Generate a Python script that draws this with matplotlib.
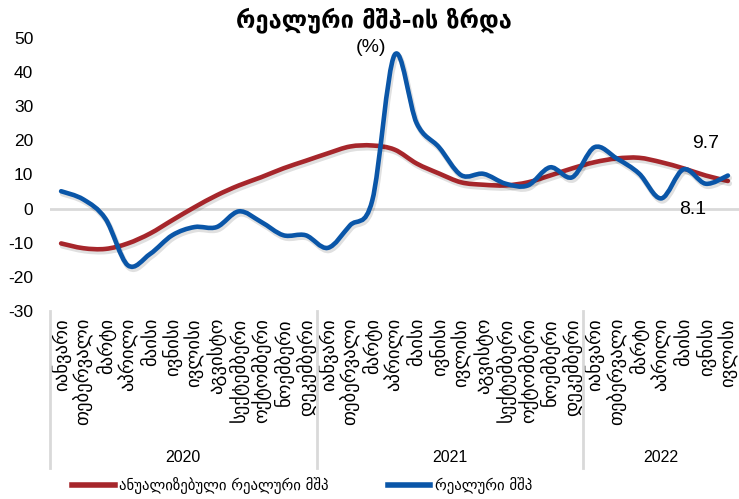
import numpy as np
import matplotlib
matplotlib.use("Agg")
import matplotlib.pyplot as plt
from matplotlib.path import Path
from matplotlib.patches import PathPatch
from matplotlib.lines import Line2D
import matplotlib.patheffects as pe
import matplotlib.transforms as mtransforms

plt.rcParams['font.family'] = ['Liberation Sans', 'DejaVu Sans']
plt.rcParams['axes.unicode_minus'] = False

months = ["იანვარი", "თებერვალი", "მარტი", "აპრილი", "მაისი", "ივნისი",
          "ივლისი", "აგვისტო", "სექტემბერი", "ოქტომბერი", "ნოემბერი", "დეკემბერი"]
years = ["2020", "2021", "2022"]
months_per_year = [12, 12, 7]
categories = months + months + months[:7]

real_gdp = [5.1, 2.7, -3.0, -16.6, -13.3, -7.8, -5.4, -5.4, -0.8, -3.9, -7.8, -7.8,
            -11.5, -4.9, 2.4, 45.0, 25.0, 18.0, 9.8, 10.2, 7.3, 6.8, 12.1, 9.2,
            18.0, 14.7, 10.3, 3.0, 11.5, 7.3, 9.7]
annualized_gdp = [-10.2, -11.6, -11.8, -10.2, -7.3, -3.4, 0.4, 3.9, 6.8, 9.2, 11.8, 14.0,
                  16.2, 18.2, 18.5, 17.3, 13.2, 10.3, 7.7, 7.0, 6.8, 7.7, 9.7, 11.8,
                  13.6, 14.7, 14.9, 13.6, 11.8, 9.7, 8.1]

title = "რეალური მშპ-ის ზრდა"
subtitle = "(%)"
label_annual = "ანუალიზებული რეალური მშპ"
label_real = "რეალური მშპ"

red = '#A6262B'
blue = '#0A56A8'


def smooth_path(x, y):
    pts = np.column_stack([x, y]).astype(float)
    n = len(pts)
    verts = [pts[0]]
    codes = [Path.MOVETO]
    for i in range(n - 1):
        p0 = pts[i - 1] if i > 0 else pts[i]
        p1 = pts[i]
        p2 = pts[i + 1]
        p3 = pts[i + 2] if i + 2 < n else pts[i + 1]
        c1 = p1 + (p2 - p0) / 6.0
        c2 = p2 - (p3 - p1) / 6.0
        verts += [c1, c2, p2]
        codes += [Path.CURVE4] * 3
    return Path(verts, codes)


fig = plt.figure(figsize=(7.39, 4.99), dpi=100)
W, H = 739, 499
ax_left, ax_right, ax_top, ax_bot = 50, 739, 38, 311
ax = fig.add_axes([ax_left / W, 1 - ax_bot / H, (ax_right - ax_left) / W, (ax_bot - ax_top) / H])

x = np.arange(len(categories))
ax.set_xlim(-0.5, len(categories) - 0.5)
ax.set_ylim(-30, 50)

ax.axhline(0, color='#d9d9d9', lw=2, zorder=1)

shadow = [pe.SimpleLineShadow(offset=(1, -1.8), alpha=0.12, shadow_color='k', linewidth=4), pe.Normal()]
for data, col in [(annualized_gdp, red), (real_gdp, blue)]:
    patch = PathPatch(smooth_path(x, data), facecolor='none', edgecolor=col, lw=3.3,
                      capstyle='round', joinstyle='round', zorder=3)
    patch.set_path_effects(shadow)
    ax.add_patch(patch)

for s in ax.spines.values():
    s.set_visible(False)

ax.set_yticks(np.arange(-30, 51, 10))
ax.tick_params(axis='y', length=0, pad=12, labelsize=12.5)
ax.set_xticks(x)
ax.set_xticklabels(categories, rotation=90, fontsize=13.5, va='top', ha='center',
                   family=['DejaVu Sans'])
ax.tick_params(axis='x', length=0, pad=5)

trans = mtransforms.blended_transform_factory(ax.transData, ax.transAxes)
bounds = np.concatenate([[0], np.cumsum(months_per_year)]) - 0.5
for b in bounds[:-1]:
    ax.add_line(Line2D([b, b], [0, -0.575], transform=trans, color='#d9d9d9', lw=2, clip_on=False))
for i, yr in enumerate(years):
    c = (bounds[i] + bounds[i + 1]) / 2
    ax.text(c, -0.535, yr, transform=trans, ha='center', va='center', fontsize=11.5)

ax.text(x[-1] - 1.0, real_gdp[-1] + 9.3, f"{real_gdp[-1]:.1f}", ha='center', va='center', fontsize=14)
ax.text(x[-1] - 1.6, annualized_gdp[-1] - 8.3, f"{annualized_gdp[-1]:.1f}", ha='center', va='center', fontsize=14)

fig.text(374 / W, 1 - 20 / H, title, ha='center', va='center', fontsize=17, fontweight='bold',
         family=['DejaVu Sans'])
fig.text(371 / W, 1 - 48 / H, subtitle, ha='center', va='center', fontsize=14)

handles = [Line2D([], [], color=red, lw=4), Line2D([], [], color=blue, lw=4)]
fig.legend(handles, [label_annual, label_real], loc='center', ncol=2,
           bbox_to_anchor=(302 / W, 1 - 486 / H), frameon=False,
           handlelength=2.9, handletextpad=0.3, columnspacing=4.0,
           prop={'family': ['DejaVu Sans'], 'size': 10.6})

fig.savefig('out.png', dpi=100)
